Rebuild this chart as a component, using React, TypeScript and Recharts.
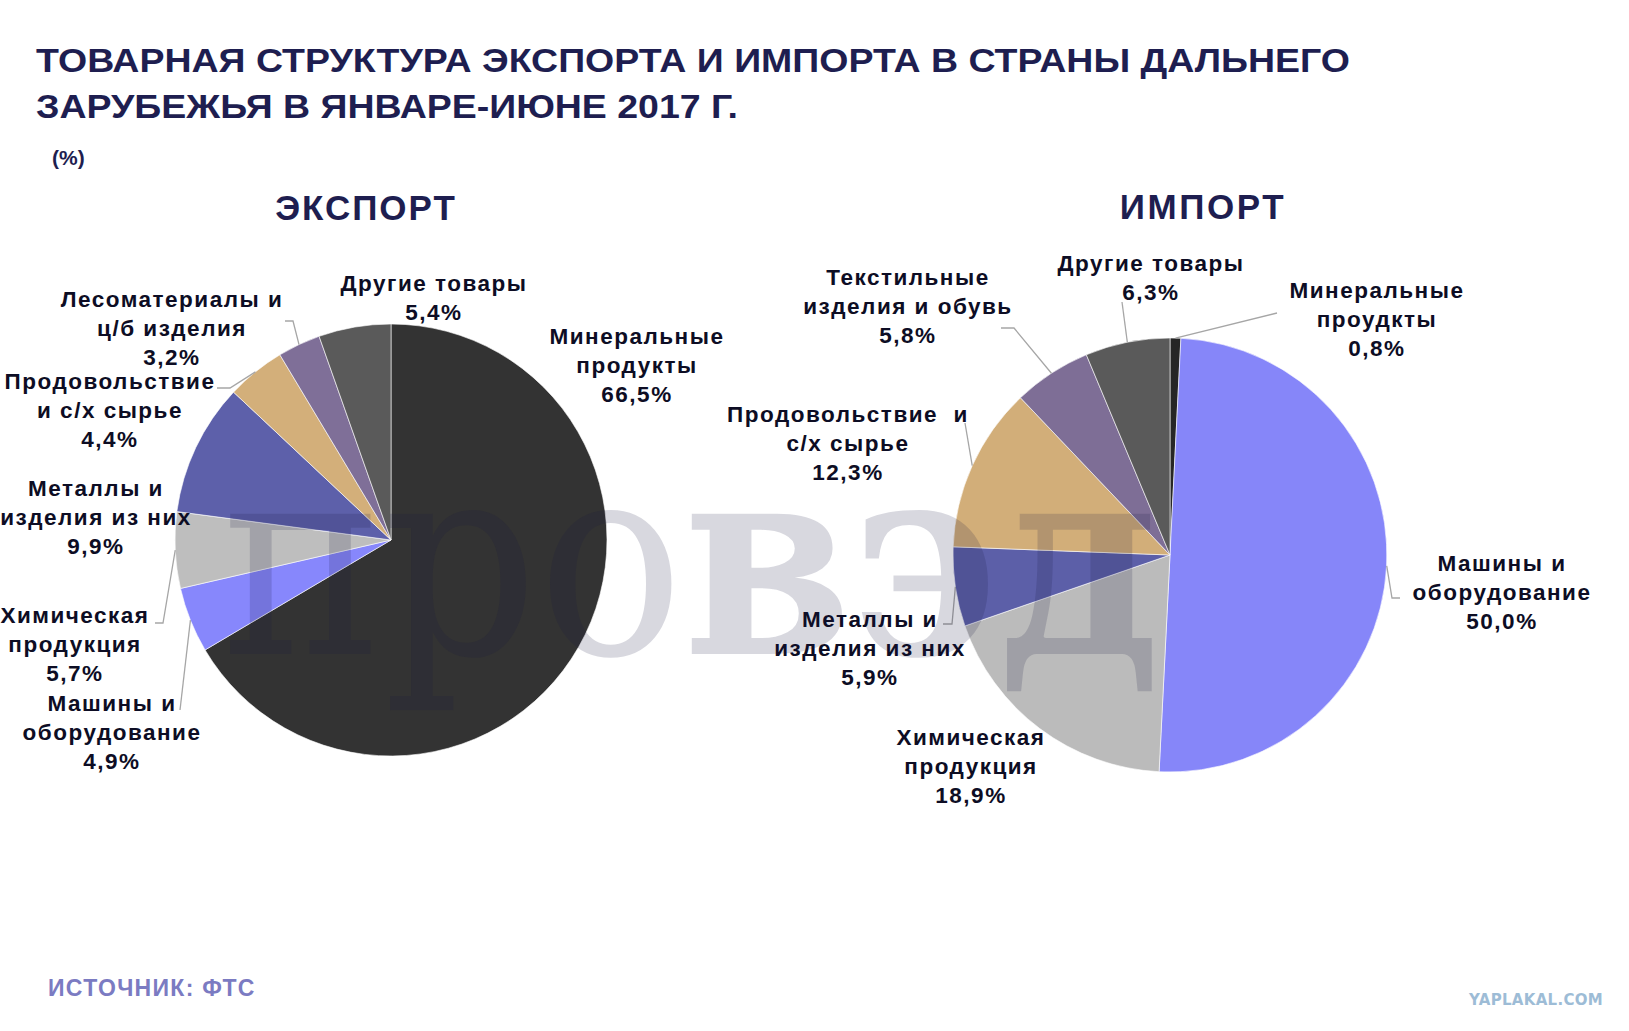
import { PieChart, Pie, Cell } from "recharts";

// slices run clockwise from 12 o'clock, same order as the source slide
const exportCategories = [
  "Минеральные\nпродукты",
  "Машины и\nоборудование",
  "Химическая\nпродукция",
  "Металлы и\nизделия из них",
  "Продовольствие\nи с/х сырье",
  "Лесоматериалы и\nц/б изделия",
  "Другие товары",
];
const exportValues = [66.5, 4.9, 5.7, 9.9, 4.4, 3.2, 5.4];

const importCategories = [
  "Минеральные\nпроудкты",
  "Машины и\nоборудование",
  "Химическая\nпродукция",
  "Металлы и\nизделия из них",
  "Продовольствие  и\nс/х сырье",
  "Текстильные\nизделия и обувь",
  "Другие товары",
];
const importValues = [0.8, 50.0, 18.9, 5.9, 12.3, 5.8, 6.3];

const exportColors = ["#333333", "#8787fc", "#bebebe", "#5d60aa", "#d3af7a", "#7f6f98", "#5a5a5a"];
const importColors = ["#262626", "#8686f9", "#bbbbbb", "#5c5fa8", "#d2ae79", "#7e6e96", "#5a5a5a"];

// label block centre and leader bends, relative to the pie centre
type LabelSpot = { x: number; y: number; leader?: number[][] };
const exportLabelSpots: LabelSpot[] = [
  { x: 246, y: -175 },
  { x: -279, y: 192, leader: [[-211, 170]] },
  { x: -316, y: 104, leader: [[-236, 83], [-228, 83]] },
  { x: -295, y: -23 },
  { x: -281, y: -130, leader: [[-174, -152], [-161, -152]] },
  { x: -219, y: -212, leader: [[-106, -219], [-98, -219]] },
  { x: 43, y: -242 },
];
const importLabelSpots: LabelSpot[] = [
  { x: 207, y: -236, leader: [[107, -242]] },
  { x: 332, y: 37, leader: [[230, 43], [222, 43]] },
  { x: -199, y: 211 },
  { x: -300, y: 93, leader: [[-227, 69], [-218, 69]] },
  { x: -322, y: -112, leader: [[-205, -132]] },
  { x: -262, y: -249, leader: [[-169, -227], [-156, -227]] },
  { x: -19, y: -277, leader: [[-48, -253]] },
];

const RADIAN = Math.PI / 180;
const FONT = '"Liberation Sans", Arial, sans-serif';
const INK = "#0d0d24";
const NAVY = "#1e1e50";

const toRows = (names: string[], values: number[]) => names.map((name, i) => ({ name, value: values[i] }));
const pct = (v: number) => `${v.toFixed(1).replace(".", ",")}%`;

function makeLabel(spots: LabelSpot[], gap = 29) {
  return (props: any) => {
    const { cx, cy, midAngle, outerRadius, index } = props;
    const name: string = props.name ?? props.payload?.name ?? "";
    const spot = spots[index];
    const lines = [...name.split("\n"), pct(props.value)];
    const ax = cx + outerRadius * Math.cos(-midAngle * RADIAN);
    const ay = cy + outerRadius * Math.sin(-midAngle * RADIAN);
    const lx = cx + spot.x;
    const ly = cy + spot.y;
    const points = spot.leader
      ? [...spot.leader.map(([dx, dy]) => `${cx + dx},${cy + dy}`), `${ax},${ay}`].join(" ")
      : null;
    return (
      <g key={`lbl-${index}`}>
        {points && <polyline points={points} fill="none" stroke="#a6a6a6" strokeWidth={1.3} />}
        {lines.map((line, i) => (
          <text
            key={i}
            x={lx}
            y={ly + (i - (lines.length - 1) / 2) * gap}
            textAnchor="middle"
            dominantBaseline="central"
            fontFamily={FONT}
            fontWeight="bold"
            fontSize={22.5}
            letterSpacing={1.5}
            fill={INK}
            style={{ whiteSpace: "pre" }}
          >
            {line}
          </text>
        ))}
      </g>
    );
  };
}

export default function App() {
  const exportRows = toRows(exportCategories, exportValues);
  const importRows = toRows(importCategories, importValues);
  return (
    <div style={{ position: "relative", width: 1629, height: 1031, background: "#fff", overflow: "hidden" }}>
      <style>{"body{margin:0}"}</style>
      <PieChart width={1629} height={1031} margin={{ top: 0, right: 0, bottom: 0, left: 0 }}>
        <Pie
          data={exportRows}
          dataKey="value"
          nameKey="name"
          cx={391}
          cy={540}
          outerRadius={216}
          startAngle={90}
          endAngle={-270}
          stroke="#ffffff"
          strokeWidth={0.6}
          label={makeLabel(exportLabelSpots)}
          labelLine={false}
          isAnimationActive={false}
        >
          {exportRows.map((_, i) => <Cell key={i} fill={exportColors[i]} />)}
        </Pie>
        <Pie
          data={importRows}
          dataKey="value"
          nameKey="name"
          cx={1170}
          cy={555}
          outerRadius={217}
          startAngle={90}
          endAngle={-270}
          stroke="#ffffff"
          strokeWidth={0.6}
          label={makeLabel(importLabelSpots)}
          labelLine={false}
          isAnimationActive={false}
        >
          {importRows.map((_, i) => <Cell key={i} fill={importColors[i]} />)}
        </Pie>
      </PieChart>

      <svg width={1629} height={1031} style={{ position: "absolute", left: 0, top: 0, pointerEvents: "none" }}>
        {/* faint watermark that sits over the slide */}
        <text x={222} y={654} fontFamily='"DejaVu Serif", serif' fontSize={270} fill="#1a1a40" fillOpacity={0.17} textLength={938} lengthAdjust="spacingAndGlyphs">
          <tspan>про</tspan>
          <tspan fontWeight="bold">вэд</tspan>
        </text>
        <g fontFamily={FONT} fontWeight="bold" fill={NAVY}>
          <text x={36} y={72} fontSize={34} textLength={1314} lengthAdjust="spacingAndGlyphs">ТОВАРНАЯ СТРУКТУРА ЭКСПОРТА И ИМПОРТА В СТРАНЫ ДАЛЬНЕГО</text>
          <text x={36} y={118} fontSize={34} textLength={702} lengthAdjust="spacingAndGlyphs">ЗАРУБЕЖЬЯ В ЯНВАРЕ-ИЮНЕ 2017 Г.</text>
          <text x={52} y={165} fontSize={21}>(%)</text>
          <text x={366} y={220} fontSize={35} letterSpacing={2} textAnchor="middle">ЭКСПОРТ</text>
          <text x={1203} y={219} fontSize={35} letterSpacing={2.6} textAnchor="middle">ИМПОРТ</text>
        </g>
        <text x={48} y={996} fontFamily={FONT} fontWeight="bold" fontSize={23} letterSpacing={1.3} fill="#7b7bc2">ИСТОЧНИК: ФТС</text>
        <text x={1603} y={1005} fontFamily='"DejaVu Sans", sans-serif' fontWeight="bold" fontSize={15} letterSpacing={0.3} fill="#9dbcd6" textAnchor="end">YAPLAKAL.COM</text>
      </svg>
    </div>
  );
}
